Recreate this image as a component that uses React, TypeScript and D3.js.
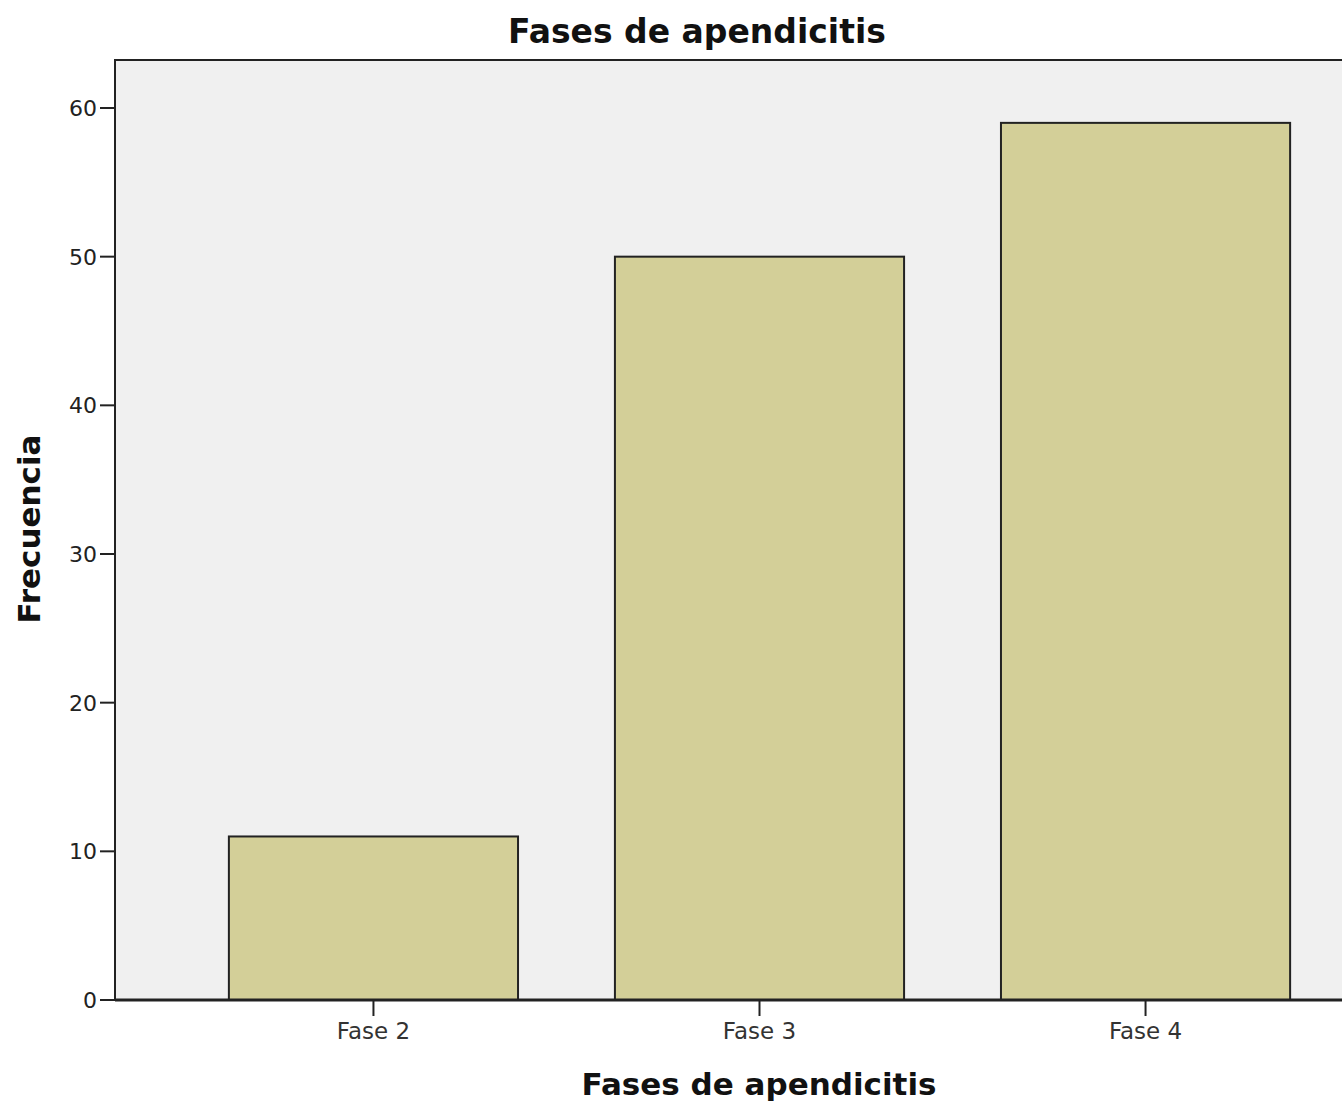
import React from "react";
import * as d3 from "d3";

const categories: string[] = ["Fase 2", "Fase 3", "Fase 4"];
const frequencies: number[] = [11, 50, 59];
const yTicks: number[] = [0, 10, 20, 30, 40, 50, 60];
const chartTitle = "Fases de apendicitis";
const xTitle = "Fases de apendicitis";
const yTitle = "Frecuencia";

const W = 1342;
const H = 1108;
const left = 115;
const top = 60;
const bottom = 1000;
const right = 1404;
const yTop = 108;

export default function App() {
  const x = d3
    .scaleBand<string>()
    .domain(categories)
    .range([left, right])
    .paddingInner(0.251)
    .paddingOuter(0.295);
  const y = d3.scaleLinear().domain([0, 60]).range([bottom, yTop]);
  const font = "'DejaVu Sans', Verdana, sans-serif";
  return (
    <div style={{ position: "absolute", left: 0, top: 0 }}>
      <svg width={W} height={H} style={{ display: "block", background: "#fff" }}>
        <rect x={left} y={top} width={right - left} height={bottom - top} fill="#f0f0f0" stroke="#222" strokeWidth={2} />
        {categories.map((c, i) => (
          <rect
            key={c}
            x={x(c)}
            y={y(frequencies[i])}
            width={x.bandwidth()}
            height={bottom - y(frequencies[i])}
            fill="#d3cf98"
            stroke="#222"
            strokeWidth={2}
          />
        ))}
        <line x1={left} x2={right} y1={bottom} y2={bottom} stroke="#222" strokeWidth={3} />
        <line x1={left} x2={left} y1={top} y2={bottom} stroke="#222" strokeWidth={2} />
        {yTicks.map((t) => (
          <g key={t}>
            <line x1={left - 15} x2={left} y1={y(t)} y2={y(t)} stroke="#222" strokeWidth={2} />
            <text x={left - 18} y={y(t)} dy="0.36em" textAnchor="end" fontFamily={font} fontSize={22} fill="#222">
              {t}
            </text>
          </g>
        ))}
        {categories.map((c) => {
          const cx = (x(c) as number) + x.bandwidth() / 2;
          return (
            <g key={c}>
              <line x1={cx} x2={cx} y1={bottom} y2={bottom + 16} stroke="#222" strokeWidth={2} />
              <text x={cx} y={bottom + 39} textAnchor="middle" fontFamily={font} fontSize={23} fill="#333">
                {c}
              </text>
            </g>
          );
        })}
        <text x={697} y={43} textAnchor="middle" fontFamily={font} fontWeight="bold" fontSize={33} fill="#111">
          {chartTitle}
        </text>
        <text x={759} y={1095} textAnchor="middle" fontFamily={font} fontWeight="bold" fontSize={31} fill="#111">
          {xTitle}
        </text>
        <text
          transform={`translate(40,529) rotate(-90)`}
          textAnchor="middle"
          fontFamily={font}
          fontWeight="bold"
          fontSize={31}
          fill="#111"
        >
          {yTitle}
        </text>
      </svg>
    </div>
  );
}
